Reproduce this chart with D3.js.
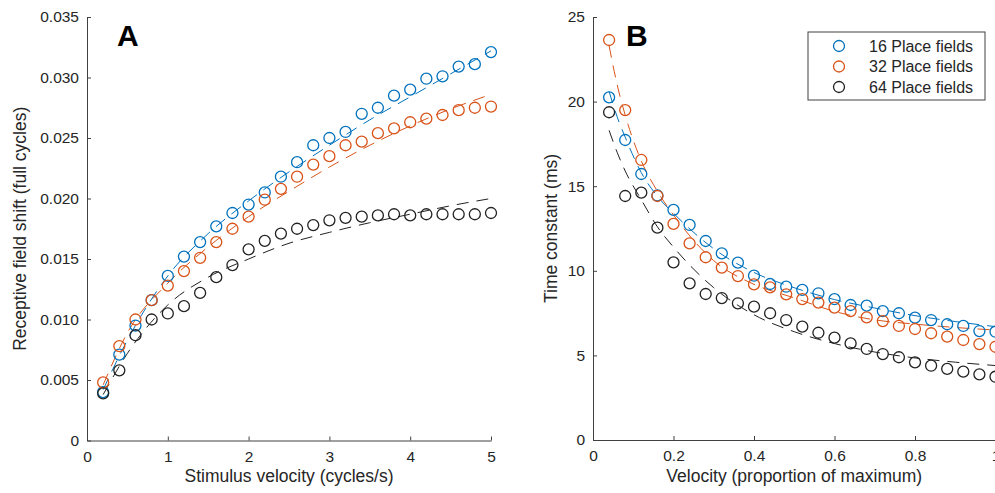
<!DOCTYPE html>
<html>
<head>
<meta charset="utf-8">
<script src="https://cdn.jsdelivr.net/npm/d3@7"></script>
<style>
  body { margin: 0; background: #fff; }
  svg { display: block; font-family: "Liberation Sans", Arial, sans-serif; }
  .axis path, .axis line { stroke: #404040; }
  .axis text { fill: #262626; font-size: 15.5px; }
</style>
</head>
<body>
<svg id="chart" width="995" height="493"></svg>
<script>
// Panel A: receptive field shift vs stimulus velocity
var velA = [0.2, 0.4, 0.6, 0.8, 1.0, 1.2, 1.4, 1.6, 1.8, 2.0, 2.2, 2.4, 2.6, 2.8, 3.0, 3.2, 3.4, 3.6, 3.8, 4.0, 4.2, 4.4, 4.6, 4.8, 5.0];
var shiftA16 = [0.0040, 0.0071, 0.0095, 0.0116, 0.0136, 0.0152, 0.0164, 0.0177, 0.0188, 0.0195, 0.0205, 0.0218, 0.0230, 0.0244, 0.0250, 0.0255, 0.0270, 0.0275, 0.0285, 0.0290, 0.0299, 0.0301, 0.0309, 0.0311, 0.0321];
var shiftA32 = [0.0048, 0.0078, 0.0100, 0.0116, 0.0128, 0.0140, 0.0151, 0.0164, 0.0175, 0.0185, 0.0199, 0.0208, 0.0218, 0.0228, 0.0235, 0.0244, 0.0247, 0.0254, 0.0258, 0.0263, 0.0266, 0.0269, 0.0273, 0.0275, 0.0276];
var shiftA64 = [0.0039, 0.0058, 0.0087, 0.0100, 0.0105, 0.0111, 0.0122, 0.0135, 0.0145, 0.0158, 0.0165, 0.0171, 0.0175, 0.0178, 0.0182, 0.0184, 0.0185, 0.0186, 0.0187, 0.0186, 0.0187, 0.0187, 0.0187, 0.0187, 0.0188];
// fitted curves
var fitVelA = [0.2, 0.5, 1.0, 1.5, 2.0, 2.5, 3.0, 3.5, 4.0, 4.5, 5.0];
var fitA16 = [0.0042, 0.0083, 0.0136, 0.0171, 0.0198, 0.0222, 0.0244, 0.0265, 0.0284, 0.0303, 0.0322];
var fitA32 = [0.0046, 0.0089, 0.0130, 0.0160, 0.0185, 0.0206, 0.0226, 0.0244, 0.0260, 0.0274, 0.0286];
var fitA64 = [0.0038, 0.0072, 0.0112, 0.0135, 0.0150, 0.0163, 0.0172, 0.0180, 0.0187, 0.0194, 0.0200];

// Panel B: time constant vs velocity
var velB = [0.04, 0.08, 0.12, 0.16, 0.20, 0.24, 0.28, 0.32, 0.36, 0.40, 0.44, 0.48, 0.52, 0.56, 0.60, 0.64, 0.68, 0.72, 0.76, 0.80, 0.84, 0.88, 0.92, 0.96, 1.00];
var tauB16 = [20.25, 17.73, 15.72, 14.45, 13.6, 12.71, 11.76, 11.03, 10.48, 9.71, 9.22, 9.06, 8.87, 8.67, 8.33, 7.98, 7.94, 7.62, 7.49, 7.23, 7.09, 6.84, 6.74, 6.44, 6.40];
var tauB32 = [23.64, 19.5, 16.55, 14.42, 12.77, 11.62, 10.8, 10.19, 9.69, 9.2, 9.02, 8.61, 8.33, 8.12, 7.82, 7.62, 7.25, 7.03, 6.74, 6.56, 6.31, 6.11, 5.91, 5.67, 5.51];
var tauB64 = [19.37, 14.42, 14.62, 12.55, 10.5, 9.26, 8.63, 8.39, 8.08, 7.88, 7.49, 7.09, 6.7, 6.34, 6.05, 5.71, 5.38, 5.08, 4.89, 4.59, 4.39, 4.2, 4.04, 3.88, 3.74];
var fitVelB = [0.04, 0.06, 0.08, 0.12, 0.16, 0.2, 0.3, 0.4, 0.5, 0.6, 0.7, 0.8, 0.9, 1.0];
var fitB16 = [20.6, 19.1, 17.9, 15.8, 14.4, 13.4, 11.3, 9.9, 9.0, 8.3, 7.8, 7.35, 7.0, 6.7];
var fitB32 = [23.3, 21.0, 19.2, 16.5, 14.7, 13.3, 10.6, 9.2, 8.4, 7.6, 7.1, 6.85, 6.65, 6.5];
var fitB64 = [18.3, 17.0, 15.9, 14.2, 12.6, 11.4, 9.0, 7.4, 6.4, 5.7, 5.2, 4.85, 4.6, 4.4];

var seriesNames = ["16 Place fields", "32 Place fields", "64 Place fields"];
var colors = ["#0072BD", "#D95319", "#222222"];

var svg = d3.select("#chart");

function drawPanel(opts) {
  var x = d3.scaleLinear().domain(opts.xDomain).range(opts.xRange),
      y = d3.scaleLinear().domain(opts.yDomain).range(opts.yRange);

  var g = svg.append("g");

  g.append("g")
      .attr("class", "axis")
      .attr("transform", "translate(0," + opts.yRange[0] + ")")
      .call(d3.axisBottom(x).tickValues(opts.xTicks).tickSizeInner(-4).tickSizeOuter(0).tickPadding(10).tickFormat(opts.xFormat));

  g.append("g")
      .attr("class", "axis")
      .attr("transform", "translate(" + opts.xRange[0] + ",0)")
      .call(d3.axisLeft(y).tickValues(opts.yTicks).tickSizeInner(-4).tickSizeOuter(0).tickPadding(8).tickFormat(opts.yFormat));

  var line = d3.line()
      .x(function(d) { return x(d[0]); })
      .y(function(d) { return y(d[1]); })
      .curve(d3.curveMonotoneX);

  opts.fits.forEach(function(f, i) {
    g.append("path")
        .datum(d3.zip(opts.fitX, f))
        .attr("d", line)
        .attr("fill", "none")
        .attr("stroke", colors[i])
        .attr("stroke-width", 1)
        .attr("stroke-dasharray", "12,8");
  });

  opts.series.forEach(function(s, i) {
    g.selectAll(null)
      .data(d3.zip(opts.dataX, s))
      .enter().append("circle")
        .attr("cx", function(d) { return x(d[0]); })
        .attr("cy", function(d) { return y(d[1]); })
        .attr("r", 5.5)
        .attr("fill", "none")
        .attr("stroke", colors[i])
        .attr("stroke-width", 1.3);
  });

  // panel letter
  g.append("text")
      .attr("x", opts.letterX)
      .attr("y", 46)
      .attr("font-size", 30)
      .attr("font-weight", "bold")
      .attr("fill", "#000")
      .text(opts.letter);

  g.append("text")
      .attr("x", (opts.xRange[0] + opts.xRange[1]) / 2)
      .attr("y", 482)
      .attr("text-anchor", "middle")
      .attr("font-size", 17.5)
      .attr("fill", "#262626")
      .text(opts.xLabel);

  g.append("text")
      .attr("transform", "translate(" + opts.yLabelX + "," + (opts.yRange[0] + opts.yRange[1]) / 2 + ") rotate(-90)")
      .attr("text-anchor", "middle")
      .attr("font-size", 17.5)
      .attr("fill", "#262626")
      .text(opts.yLabel);
}

drawPanel({
  xDomain: [0, 5], xRange: [87, 491],
  yDomain: [0, 0.035], yRange: [440.5, 17],
  xTicks: [0, 1, 2, 3, 4, 5], yTicks: [0, 0.005, 0.01, 0.015, 0.02, 0.025, 0.03, 0.035],
  xFormat: d3.format("d"),
  yFormat: function(d) { return d === 0 ? "0" : d3.format(".3f")(d); },
  dataX: velA, series: [shiftA16, shiftA32, shiftA64],
  fitX: fitVelA, fits: [fitA16, fitA32, fitA64],
  letter: "A", letterX: 117,
  xLabel: "Stimulus velocity (cycles/s)",
  yLabel: "Receptive field shift (full cycles)", yLabelX: 26
});

drawPanel({
  xDomain: [0, 1], xRange: [593, 995.5],
  yDomain: [0, 25], yRange: [440, 17],
  xTicks: [0, 0.2, 0.4, 0.6, 0.8, 1], yTicks: [0, 5, 10, 15, 20, 25],
  xFormat: function(d) { return (d === 0 || d === 1) ? String(d) : d3.format(".1f")(d); },
  yFormat: d3.format("d"),
  dataX: velB, series: [tauB16, tauB32, tauB64],
  fitX: fitVelB, fits: [fitB16, fitB32, fitB64],
  letter: "B", letterX: 626,
  xLabel: "Velocity (proportion of maximum)",
  yLabel: "Time constant (ms)", yLabelX: 557
});

// legend
var legend = svg.append("g").attr("transform", "translate(808,32)");
legend.append("rect")
    .attr("width", 177).attr("height", 68)
    .attr("fill", "#fff")
    .attr("stroke", "#404040")
    .attr("stroke-width", 1);
seriesNames.forEach(function(name, i) {
  var row = legend.append("g").attr("transform", "translate(0," + (14 + i * 20.5) + ")");
  row.append("circle")
      .attr("cx", 31).attr("cy", 0).attr("r", 5.5)
      .attr("fill", "none").attr("stroke", colors[i]).attr("stroke-width", 1.3);
  row.append("text")
      .attr("x", 61).attr("dy", "0.35em")
      .attr("font-size", 16)
      .attr("fill", "#262626")
      .text(name);
});
</script>
</body>
</html>
